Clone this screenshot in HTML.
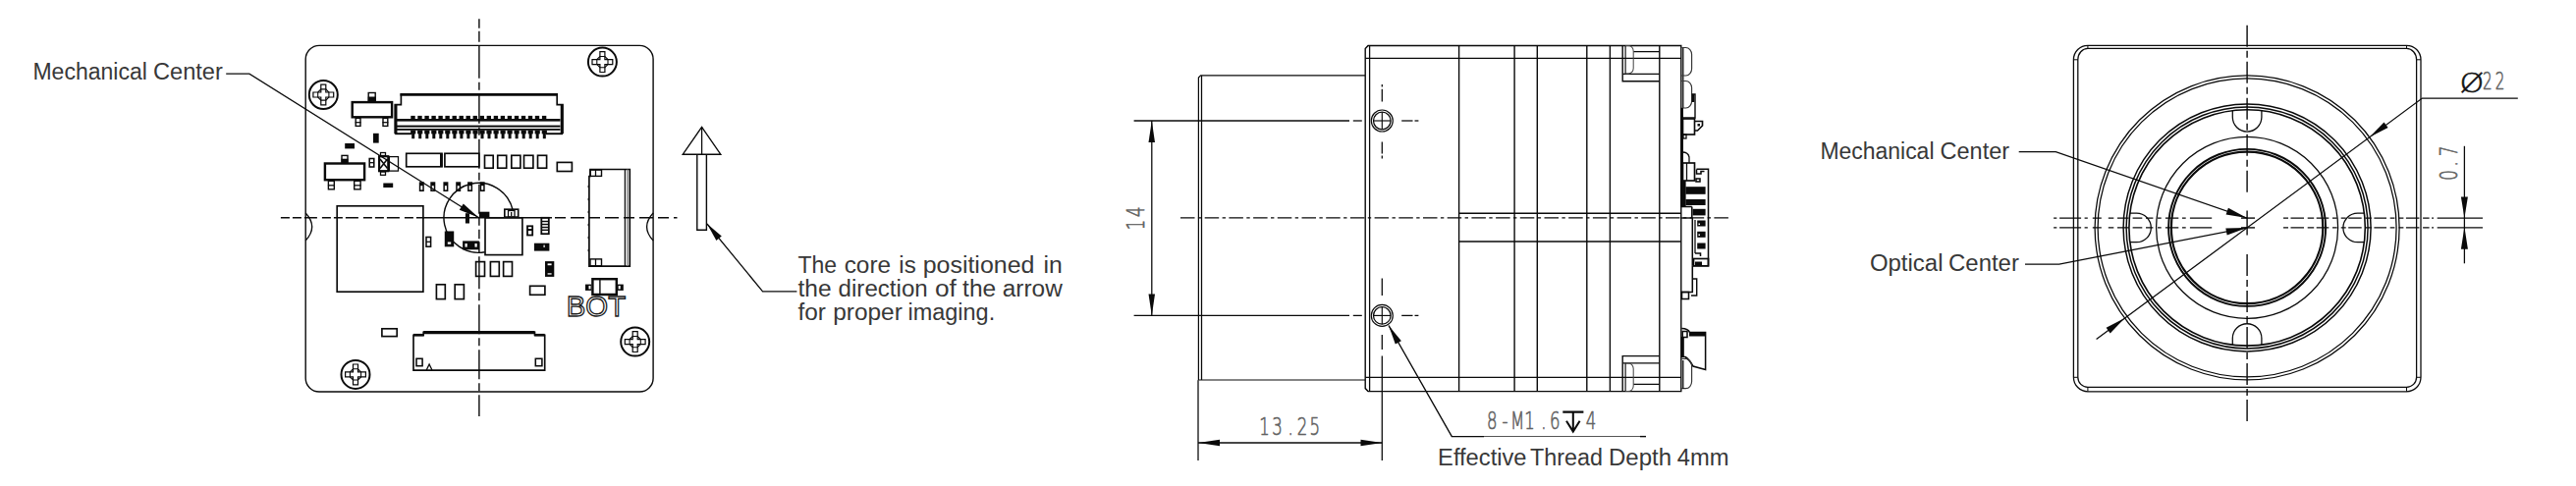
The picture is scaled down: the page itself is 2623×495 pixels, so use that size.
<!DOCTYPE html>
<html><head><meta charset="utf-8"><title>Dimensions</title>
<style>html,body{margin:0;padding:0;background:#fff}svg{display:block}</style>
</head><body>
<svg width="2623" height="495" viewBox="0 0 2623 495">
<rect width="2623" height="495" fill="#fff"/>
<g id="pcb">
<rect x="311.2" y="46.4" width="353.9" height="352.6" fill="none" stroke="#0a0a0a" stroke-width="1.41" rx="13.8"/>
<path d="M311.2 217 Q324.2 231 311.2 245" fill="none" stroke="#0a0a0a" stroke-width="1.28" />
<path d="M665.1 217 Q652.1 231 665.1 245" fill="none" stroke="#0a0a0a" stroke-width="1.28" />
<circle cx="329.3" cy="96.5" r="14.5" fill="none" stroke="#0a0a0a" stroke-width="1.98" />
<path d="M326.8,86.1 H331.8 V94.0 H339.7 V99.0 H331.8 V106.9 H326.8 V99.0 H318.90000000000003 V94.0 H326.8 Z" fill="none" stroke="#0a0a0a" stroke-width="1.22" />
<path d="M323.7,94.0 V99.0 L326.8,102.1 H331.8 L334.90000000000003,99.0 V94.0 L331.8,90.9 H326.8 Z" fill="none" stroke="#0a0a0a" stroke-width="1.09" />
<circle cx="613.4" cy="63.1" r="14.5" fill="none" stroke="#0a0a0a" stroke-width="1.98" />
<path d="M610.9,52.7 H615.9 V60.6 H623.8 V65.6 H615.9 V73.5 H610.9 V65.6 H603.0 V60.6 H610.9 Z" fill="none" stroke="#0a0a0a" stroke-width="1.22" />
<path d="M607.8,60.6 V65.6 L610.9,68.7 H615.9 L619.0,65.6 V60.6 L615.9,57.5 H610.9 Z" fill="none" stroke="#0a0a0a" stroke-width="1.09" />
<circle cx="362.0" cy="381.4" r="14.5" fill="none" stroke="#0a0a0a" stroke-width="1.98" />
<path d="M359.5,371.0 H364.5 V378.9 H372.4 V383.9 H364.5 V391.79999999999995 H359.5 V383.9 H351.6 V378.9 H359.5 Z" fill="none" stroke="#0a0a0a" stroke-width="1.22" />
<path d="M356.4,378.9 V383.9 L359.5,387.0 H364.5 L367.6,383.9 V378.9 L364.5,375.79999999999995 H359.5 Z" fill="none" stroke="#0a0a0a" stroke-width="1.09" />
<circle cx="646.7" cy="348.1" r="14.5" fill="none" stroke="#0a0a0a" stroke-width="1.98" />
<path d="M644.2,337.70000000000005 H649.2 V345.6 H657.1 V350.6 H649.2 V358.5 H644.2 V350.6 H636.3000000000001 V345.6 H644.2 Z" fill="none" stroke="#0a0a0a" stroke-width="1.22" />
<path d="M641.1,345.6 V350.6 L644.2,353.70000000000005 H649.2 L652.3000000000001,350.6 V345.6 L649.2,342.5 H644.2 Z" fill="none" stroke="#0a0a0a" stroke-width="1.09" />
<rect x="358.7" y="104.1" width="40.4" height="15.2" fill="none" stroke="#0a0a0a" stroke-width="2.43" />
<rect x="375.2" y="94.5" width="7.0" height="8.5" fill="none" stroke="#0a0a0a" stroke-width="1.41" />
<rect x="374.7" y="98.5" width="8.0" height="4.5" fill="#0a0a0a"/>
<rect x="362.2" y="120.4" width="4.8" height="8.0" fill="none" stroke="#0a0a0a" stroke-width="1.41" />
<line x1="361.7" y1="124.7" x2="367.5" y2="124.7" stroke="#0a0a0a" stroke-width="1.28" />
<rect x="390.0" y="120.4" width="4.8" height="8.0" fill="none" stroke="#0a0a0a" stroke-width="1.41" />
<line x1="389.5" y1="124.7" x2="395.3" y2="124.7" stroke="#0a0a0a" stroke-width="1.28" />
<rect x="330.9" y="166.5" width="40.2" height="16.7" fill="none" stroke="#0a0a0a" stroke-width="2.43" />
<rect x="348.0" y="158.4" width="6.0" height="7.0" fill="none" stroke="#0a0a0a" stroke-width="1.41" />
<rect x="347.5" y="161.7" width="7.0" height="3.8" fill="#0a0a0a"/>
<rect x="334.4" y="184.3" width="5.9" height="8.5" fill="none" stroke="#0a0a0a" stroke-width="1.41" />
<line x1="333.9" y1="188.8" x2="340.8" y2="188.8" stroke="#0a0a0a" stroke-width="1.28" />
<rect x="360.7" y="184.3" width="6.4" height="8.5" fill="none" stroke="#0a0a0a" stroke-width="1.41" />
<line x1="360.2" y1="188.8" x2="367.6" y2="188.8" stroke="#0a0a0a" stroke-width="1.28" />
<rect x="380.0" y="135.8" width="5.7" height="9.8" fill="#0a0a0a"/>
<rect x="351.2" y="146.0" width="9.8" height="5.4" fill="#0a0a0a"/>
<rect x="390.3" y="186.5" width="9.9" height="4.5" fill="#0a0a0a"/>
<rect x="376.2" y="161.5" width="4.6" height="8.5" fill="none" stroke="#0a0a0a" stroke-width="1.54" />
<line x1="376.2" y1="165.7" x2="380.8" y2="165.7" stroke="#0a0a0a" stroke-width="1.28" />
<rect x="386.1" y="159.2" width="9.2" height="15.0" fill="none" stroke="#0a0a0a" stroke-width="2.18" />
<rect x="387.5" y="155.5" width="5.0" height="3.0" fill="none" stroke="#0a0a0a" stroke-width="1.28" />
<rect x="387.5" y="175.0" width="5.0" height="3.3" fill="none" stroke="#0a0a0a" stroke-width="1.28" />
<path d="M387,162 L394.5,171.5 M394.5,162 L387,171.5" fill="none" stroke="#0a0a0a" stroke-width="1.54" />
<rect x="396.4" y="159.6" width="9.1" height="14.5" fill="none" stroke="#0a0a0a" stroke-width="1.28" />
<rect x="413.7" y="156.3" width="36.3" height="13.5" fill="none" stroke="#0a0a0a" stroke-width="1.66" />
<line x1="449.3" y1="156.3" x2="449.3" y2="169.8" stroke="#0a0a0a" stroke-width="2.56" />
<rect x="452.9" y="156.3" width="34.9" height="13.5" fill="none" stroke="#0a0a0a" stroke-width="1.66" />
<rect x="493.5" y="158.3" width="8.7" height="12.9" fill="none" stroke="#0a0a0a" stroke-width="1.66" />
<rect x="506.7" y="158.3" width="9.0" height="12.9" fill="none" stroke="#0a0a0a" stroke-width="1.66" />
<rect x="520.8" y="158.3" width="9.1" height="12.9" fill="none" stroke="#0a0a0a" stroke-width="1.66" />
<rect x="533.5" y="158.3" width="9.4" height="12.9" fill="none" stroke="#0a0a0a" stroke-width="1.66" />
<rect x="547.5" y="158.3" width="9.1" height="12.9" fill="none" stroke="#0a0a0a" stroke-width="1.66" />
<rect x="567.3" y="165.4" width="15.1" height="9.1" fill="none" stroke="#0a0a0a" stroke-width="1.66" />
<rect x="426.8" y="185.3" width="5.0" height="9.7" fill="#0a0a0a"/>
<rect x="428.3" y="189.2" width="2.0" height="4.2" fill="#fff"/>
<rect x="438.3" y="185.3" width="5.0" height="9.7" fill="#0a0a0a"/>
<rect x="439.8" y="189.2" width="2.0" height="4.2" fill="#fff"/>
<rect x="451.4" y="185.3" width="5.0" height="9.7" fill="#0a0a0a"/>
<rect x="452.9" y="189.2" width="2.0" height="4.2" fill="#fff"/>
<rect x="464.2" y="185.3" width="5.0" height="9.7" fill="#0a0a0a"/>
<rect x="465.7" y="189.2" width="2.0" height="4.2" fill="#fff"/>
<rect x="476.1" y="185.3" width="5.0" height="9.7" fill="#0a0a0a"/>
<rect x="477.6" y="189.2" width="2.0" height="4.2" fill="#fff"/>
<rect x="488.7" y="185.3" width="5.0" height="9.7" fill="#0a0a0a"/>
<rect x="490.2" y="189.2" width="2.0" height="4.2" fill="#fff"/>
<path d="M402.2,136.2 V106.7 H408.4 V96.1 H567.2 V106.7 H573 V136.2" fill="none" stroke="#0a0a0a" stroke-width="1.66" />
<line x1="407.5" y1="96.3" x2="568.0" y2="96.3" stroke="#0a0a0a" stroke-width="2.82" />
<line x1="403.2" y1="106.7" x2="403.2" y2="136.0" stroke="#0a0a0a" stroke-width="2.56" />
<line x1="572.0" y1="106.7" x2="572.0" y2="136.0" stroke="#0a0a0a" stroke-width="2.56" />
<rect x="404.0" y="121.0" width="166.5" height="2.6" fill="#0a0a0a"/>
<rect x="404.0" y="127.6" width="166.5" height="2.0" fill="#0a0a0a"/>
<rect x="404.0" y="131.0" width="166.5" height="1.8" fill="#0a0a0a"/>
<rect x="419.2" y="134.0" width="3.0" height="7.2" fill="#0a0a0a"/>
<rect x="418.1" y="132.6" width="5.2" height="3.8" fill="#0a0a0a"/>
<rect x="418.3" y="117.9" width="4.4" height="3.6" fill="#0a0a0a"/>
<rect x="426.2" y="134.0" width="3.0" height="7.2" fill="#0a0a0a"/>
<rect x="425.1" y="132.6" width="5.2" height="3.8" fill="#0a0a0a"/>
<rect x="425.3" y="117.9" width="4.4" height="3.6" fill="#0a0a0a"/>
<rect x="433.3" y="134.0" width="3.0" height="7.2" fill="#0a0a0a"/>
<rect x="432.2" y="132.6" width="5.2" height="3.8" fill="#0a0a0a"/>
<rect x="432.4" y="117.9" width="4.4" height="3.6" fill="#0a0a0a"/>
<rect x="440.3" y="134.0" width="3.0" height="7.2" fill="#0a0a0a"/>
<rect x="439.2" y="132.6" width="5.2" height="3.8" fill="#0a0a0a"/>
<rect x="439.4" y="117.9" width="4.4" height="3.6" fill="#0a0a0a"/>
<rect x="447.3" y="134.0" width="3.0" height="7.2" fill="#0a0a0a"/>
<rect x="446.2" y="132.6" width="5.2" height="3.8" fill="#0a0a0a"/>
<rect x="446.4" y="117.9" width="4.4" height="3.6" fill="#0a0a0a"/>
<rect x="454.3" y="134.0" width="3.0" height="7.2" fill="#0a0a0a"/>
<rect x="453.2" y="132.6" width="5.2" height="3.8" fill="#0a0a0a"/>
<rect x="453.4" y="117.9" width="4.4" height="3.6" fill="#0a0a0a"/>
<rect x="461.4" y="134.0" width="3.0" height="7.2" fill="#0a0a0a"/>
<rect x="460.3" y="132.6" width="5.2" height="3.8" fill="#0a0a0a"/>
<rect x="460.5" y="117.9" width="4.4" height="3.6" fill="#0a0a0a"/>
<rect x="468.4" y="134.0" width="3.0" height="7.2" fill="#0a0a0a"/>
<rect x="467.3" y="132.6" width="5.2" height="3.8" fill="#0a0a0a"/>
<rect x="467.5" y="117.9" width="4.4" height="3.6" fill="#0a0a0a"/>
<rect x="475.4" y="134.0" width="3.0" height="7.2" fill="#0a0a0a"/>
<rect x="474.3" y="132.6" width="5.2" height="3.8" fill="#0a0a0a"/>
<rect x="474.5" y="117.9" width="4.4" height="3.6" fill="#0a0a0a"/>
<rect x="482.5" y="134.0" width="3.0" height="7.2" fill="#0a0a0a"/>
<rect x="481.4" y="132.6" width="5.2" height="3.8" fill="#0a0a0a"/>
<rect x="481.6" y="117.9" width="4.4" height="3.6" fill="#0a0a0a"/>
<rect x="489.5" y="134.0" width="3.0" height="7.2" fill="#0a0a0a"/>
<rect x="488.4" y="132.6" width="5.2" height="3.8" fill="#0a0a0a"/>
<rect x="488.6" y="117.9" width="4.4" height="3.6" fill="#0a0a0a"/>
<rect x="496.5" y="134.0" width="3.0" height="7.2" fill="#0a0a0a"/>
<rect x="495.4" y="132.6" width="5.2" height="3.8" fill="#0a0a0a"/>
<rect x="495.6" y="117.9" width="4.4" height="3.6" fill="#0a0a0a"/>
<rect x="503.6" y="134.0" width="3.0" height="7.2" fill="#0a0a0a"/>
<rect x="502.5" y="132.6" width="5.2" height="3.8" fill="#0a0a0a"/>
<rect x="502.7" y="117.9" width="4.4" height="3.6" fill="#0a0a0a"/>
<rect x="510.6" y="134.0" width="3.0" height="7.2" fill="#0a0a0a"/>
<rect x="509.5" y="132.6" width="5.2" height="3.8" fill="#0a0a0a"/>
<rect x="509.7" y="117.9" width="4.4" height="3.6" fill="#0a0a0a"/>
<rect x="517.6" y="134.0" width="3.0" height="7.2" fill="#0a0a0a"/>
<rect x="516.5" y="132.6" width="5.2" height="3.8" fill="#0a0a0a"/>
<rect x="516.7" y="117.9" width="4.4" height="3.6" fill="#0a0a0a"/>
<rect x="524.6" y="134.0" width="3.0" height="7.2" fill="#0a0a0a"/>
<rect x="523.5" y="132.6" width="5.2" height="3.8" fill="#0a0a0a"/>
<rect x="523.8" y="117.9" width="4.4" height="3.6" fill="#0a0a0a"/>
<rect x="531.7" y="134.0" width="3.0" height="7.2" fill="#0a0a0a"/>
<rect x="530.6" y="132.6" width="5.2" height="3.8" fill="#0a0a0a"/>
<rect x="530.8" y="117.9" width="4.4" height="3.6" fill="#0a0a0a"/>
<rect x="538.7" y="134.0" width="3.0" height="7.2" fill="#0a0a0a"/>
<rect x="537.6" y="132.6" width="5.2" height="3.8" fill="#0a0a0a"/>
<rect x="537.8" y="117.9" width="4.4" height="3.6" fill="#0a0a0a"/>
<rect x="545.7" y="134.0" width="3.0" height="7.2" fill="#0a0a0a"/>
<rect x="544.6" y="132.6" width="5.2" height="3.8" fill="#0a0a0a"/>
<rect x="544.8" y="117.9" width="4.4" height="3.6" fill="#0a0a0a"/>
<rect x="552.8" y="134.0" width="3.0" height="7.2" fill="#0a0a0a"/>
<rect x="551.7" y="132.6" width="5.2" height="3.8" fill="#0a0a0a"/>
<rect x="551.9" y="117.9" width="4.4" height="3.6" fill="#0a0a0a"/>
<line x1="402.2" y1="136.2" x2="419.0" y2="136.2" stroke="#0a0a0a" stroke-width="1.92" />
<line x1="556.0" y1="136.2" x2="573.0" y2="136.2" stroke="#0a0a0a" stroke-width="1.92" />
<rect x="343.2" y="209.8" width="87.7" height="87.4" fill="none" stroke="#0a0a0a" stroke-width="1.66" />
<rect x="494.0" y="221.8" width="37.9" height="37.8" fill="none" stroke="#0a0a0a" stroke-width="1.66" />
<path d="M521.9,213.2 A35.5,35.5 0 1 0 493.7,256.8" fill="none" stroke="#0a0a0a" stroke-width="1.41" />
<rect x="487.9" y="215.7" width="10.5" height="6.1" fill="#0a0a0a"/>
<rect x="473.9" y="217.2" width="4.1" height="10.3" fill="#0a0a0a"/>
<rect x="513.8" y="213.2" width="13.9" height="7.9" fill="none" stroke="#0a0a0a" stroke-width="1.66" />
<rect x="517.5" y="214.5" width="6.5" height="6.6" fill="none" stroke="#0a0a0a" stroke-width="1.28" />
<line x1="520.7" y1="216.0" x2="520.7" y2="220.0" stroke="#0a0a0a" stroke-width="1.28" />
<rect x="434.0" y="241.5" width="4.6" height="9.7" fill="none" stroke="#0a0a0a" stroke-width="1.54" />
<line x1="434.0" y1="246.3" x2="438.6" y2="246.3" stroke="#0a0a0a" stroke-width="1.28" />
<rect x="453.8" y="236.5" width="7.4" height="13.8" fill="#0a0a0a" stroke="#0a0a0a" stroke-width="2.05" />
<rect x="455.8" y="246.5" width="3.4" height="2.2" fill="#fff"/>
<rect x="472.0" y="246.3" width="15.0" height="7.1" fill="#0a0a0a" stroke="#0a0a0a" stroke-width="1.79" />
<rect x="473.5" y="248" width="2.2" height="3.6" fill="#fff"/><rect x="483.5" y="248" width="2.2" height="3.6" fill="#fff"/>
<rect x="537.0" y="230.3" width="5.2" height="9.2" fill="none" stroke="#0a0a0a" stroke-width="1.79" />
<rect x="537.0" y="233.0" width="5.2" height="2.0" fill="#0a0a0a"/>
<rect x="551.3" y="221.8" width="7.5" height="16.4" fill="none" stroke="#0a0a0a" stroke-width="1.79" />
<line x1="551.3" y1="225.5" x2="558.8" y2="225.5" stroke="#0a0a0a" stroke-width="1.41" />
<line x1="551.3" y1="228.5" x2="558.8" y2="228.5" stroke="#0a0a0a" stroke-width="1.41" />
<line x1="551.3" y1="231.5" x2="558.8" y2="231.5" stroke="#0a0a0a" stroke-width="1.41" />
<line x1="551.3" y1="234.3" x2="558.8" y2="234.3" stroke="#0a0a0a" stroke-width="1.41" />
<rect x="543.9" y="247.7" width="15.5" height="7.9" fill="#0a0a0a"/>
<rect x="553.5" y="249.5" width="1.2" height="2.5" fill="#fff"/>
<rect x="555.9" y="267.0" width="7.5" height="14.0" fill="#0a0a0a" stroke="#0a0a0a" stroke-width="1.79" />
<rect x="557.6" y="268.4" width="4" height="1.8" fill="#fff"/><rect x="557.6" y="278" width="4" height="1.8" fill="#bbb"/>
<rect x="484.6" y="266.6" width="8.9" height="14.8" fill="none" stroke="#0a0a0a" stroke-width="1.66" />
<rect x="499.4" y="266.6" width="8.9" height="14.8" fill="none" stroke="#0a0a0a" stroke-width="1.66" />
<rect x="512.6" y="266.6" width="8.9" height="14.8" fill="none" stroke="#0a0a0a" stroke-width="1.66" />
<rect x="444.4" y="289.8" width="8.9" height="14.8" fill="none" stroke="#0a0a0a" stroke-width="1.66" />
<rect x="463.2" y="289.8" width="9.2" height="14.8" fill="none" stroke="#0a0a0a" stroke-width="1.66" />
<rect x="539.6" y="291.3" width="15.3" height="9.0" fill="none" stroke="#0a0a0a" stroke-width="1.66" />
<rect x="388.9" y="334.8" width="15.3" height="7.8" fill="none" stroke="#0a0a0a" stroke-width="1.66" />
<path d="M599.9,271.1 V179.5 H601 V172.5 H641.3 V271.1 Z" fill="none" stroke="#0a0a0a" stroke-width="1.66" />
<line x1="636.4" y1="172.5" x2="636.4" y2="271.1" stroke="#0a0a0a" stroke-width="1.28" />
<line x1="638.9" y1="172.5" x2="638.9" y2="271.1" stroke="#777" stroke-width="1.28" />
<rect x="601.0" y="173.1" width="11.5" height="6.3" fill="none" stroke="#0a0a0a" stroke-width="1.41" />
<line x1="606.5" y1="173.1" x2="606.5" y2="179.4" stroke="#0a0a0a" stroke-width="1.28" />
<rect x="601.0" y="263.9" width="11.5" height="6.9" fill="none" stroke="#0a0a0a" stroke-width="1.41" />
<line x1="606.5" y1="263.9" x2="606.5" y2="270.8" stroke="#0a0a0a" stroke-width="1.28" />
<rect x="598.6" y="188.8" width="1.4" height="2.4" fill="#0a0a0a"/>
<rect x="598.6" y="201.8" width="1.4" height="2.4" fill="#0a0a0a"/>
<rect x="598.6" y="214.8" width="1.4" height="2.4" fill="#0a0a0a"/>
<rect x="598.6" y="227.8" width="1.4" height="2.4" fill="#0a0a0a"/>
<rect x="598.6" y="240.8" width="1.4" height="2.4" fill="#0a0a0a"/>
<rect x="598.6" y="253.8" width="1.4" height="2.4" fill="#0a0a0a"/>
<rect x="603.4" y="284.2" width="24.4" height="15.8" fill="none" stroke="#0a0a0a" stroke-width="2.43" />
<line x1="610.9" y1="283.3" x2="610.9" y2="301.0" stroke="#0a0a0a" stroke-width="1.41" />
<rect x="596.0" y="289.6" width="6.2" height="6.3" fill="#0a0a0a"/>
<rect x="629.0" y="289.6" width="5.8" height="6.3" fill="#0a0a0a"/>
<rect x="599.5" y="291" width="2" height="3.4" fill="#fff"/><rect x="629.7" y="291" width="2" height="3.4" fill="#fff"/>
<text x="576.8" y="321.9" font-size="30" font-family="'Liberation Sans', sans-serif" fill="#fff" stroke="#1c1c1c" stroke-width="1.35" textLength="60.3" lengthAdjust="spacingAndGlyphs">BOT</text>
<path d="M421,377.1 V341.4 H431.2 V338.4 H544.5 V341.4 H554.7 V377.1 Z" fill="none" stroke="#0a0a0a" stroke-width="1.66" />
<line x1="431.2" y1="338.6" x2="544.5" y2="338.6" stroke="#0a0a0a" stroke-width="3.07" />
<line x1="421.0" y1="341.2" x2="431.6" y2="341.2" stroke="#0a0a0a" stroke-width="2.56" />
<line x1="544.2" y1="341.2" x2="554.7" y2="341.2" stroke="#0a0a0a" stroke-width="2.56" />
<rect x="424.0" y="365.3" width="6.1" height="7.4" fill="none" stroke="#0a0a0a" stroke-width="1.54" />
<rect x="545.3" y="365.3" width="6.6" height="7.4" fill="none" stroke="#0a0a0a" stroke-width="1.54" />
<path d="M434.2,377.1 L437.1,371 L440,377.1" fill="none" stroke="#0a0a0a" stroke-width="1.28" />
<line x1="487.9" y1="19.3" x2="487.9" y2="424.0" stroke="#0a0a0a" stroke-width="1.41" stroke-dasharray="9.5 3 11 4 33 4 8 4 30 4 8 4 30 4 8 4 30 4 8 4"/>
<line x1="285.9" y1="221.7" x2="432.0" y2="221.7" stroke="#0a0a0a" stroke-width="1.41" stroke-dasharray="9 3 9 3 13 5"/>
<line x1="430.0" y1="221.7" x2="562.0" y2="221.7" stroke="#0a0a0a" stroke-width="1.41" />
<line x1="565.0" y1="221.7" x2="689.5" y2="221.7" stroke="#0a0a0a" stroke-width="1.41" stroke-dasharray="11 5 14 5"/>
<path d="M230.2,75.2 H253.9 L487.2,221.5" fill="none" stroke="#0a0a0a" stroke-width="1.28" />
<polygon points="487.2,221.5 467.8,213.8 471.8,207.4" fill="#0a0a0a"/>
<text y="80.7" font-size="23.3" fill="#383838" font-family="'Liberation Sans', sans-serif" xml:space="preserve"><tspan x="33.4" textLength="116.5" lengthAdjust="spacingAndGlyphs">Mechanical</tspan> <tspan x="156.0" textLength="70.8" lengthAdjust="spacingAndGlyphs">Center</tspan></text>
<path d="M714.6,129.4 L695.3,157.2 H733.8 Z" fill="none" stroke="#0a0a0a" stroke-width="1.41" />
<line x1="714.6" y1="129.4" x2="714.6" y2="157.2" stroke="#0a0a0a" stroke-width="1.28" />
<path d="M709.8,157.2 V234.3 H719.4 V157.2" fill="none" stroke="#0a0a0a" stroke-width="1.41" />
<path d="M720,228 L776.6,296.9 H811.4" fill="none" stroke="#0a0a0a" stroke-width="1.28" />
<polygon points="720.0,228.0 734.8,240.5 729.4,244.9" fill="#0a0a0a"/>
<text y="277.8" font-size="23.3" fill="#383838" font-family="'Liberation Sans', sans-serif" xml:space="preserve"><tspan x="812.5" textLength="39.6" lengthAdjust="spacingAndGlyphs">The</tspan> <tspan x="859.7" textLength="47.4" lengthAdjust="spacingAndGlyphs">core</tspan> <tspan x="915.3" textLength="17.4" lengthAdjust="spacingAndGlyphs">is</tspan> <tspan x="939.7" textLength="113.7" lengthAdjust="spacingAndGlyphs">positioned</tspan> <tspan x="1062.5" textLength="19.3" lengthAdjust="spacingAndGlyphs">in</tspan></text>
<text y="301.5" font-size="23.3" fill="#383838" font-family="'Liberation Sans', sans-serif" xml:space="preserve"><tspan x="812.5" textLength="34.1" lengthAdjust="spacingAndGlyphs">the</tspan> <tspan x="853.6" textLength="91.1" lengthAdjust="spacingAndGlyphs">direction</tspan> <tspan x="951.9" textLength="21.9" lengthAdjust="spacingAndGlyphs">of</tspan> <tspan x="980.1" textLength="34.1" lengthAdjust="spacingAndGlyphs">the</tspan> <tspan x="1020.8" textLength="61.0" lengthAdjust="spacingAndGlyphs">arrow</tspan></text>
<text y="325.6" font-size="23.3" fill="#383838" font-family="'Liberation Sans', sans-serif" xml:space="preserve"><tspan x="812.5" textLength="28.5" lengthAdjust="spacingAndGlyphs">for</tspan> <tspan x="848.2" textLength="70.6" lengthAdjust="spacingAndGlyphs">proper</tspan> <tspan x="924.5" textLength="88.7" lengthAdjust="spacingAndGlyphs">imaging.</tspan></text>
</g>
<g id="side">
<path d="M1390,76.9 H1222.6 L1220.4,79 V387 H1390" fill="none" stroke="#0a0a0a" stroke-width="1.22" />
<line x1="1223.5" y1="77.0" x2="1223.5" y2="387.0" stroke="#0a0a0a" stroke-width="1.28" />
<path d="M1390.2,49.5 L1393.0,46.5 H1711.8 V398.6 H1393.0 L1390.2,395.6 Z" fill="none" stroke="#0a0a0a" stroke-width="1.41" />
<line x1="1394.6" y1="46.5" x2="1394.6" y2="398.6" stroke="#0a0a0a" stroke-width="1.28" />
<line x1="1390.2" y1="59.4" x2="1711.8" y2="59.4" stroke="#0a0a0a" stroke-width="1.28" />
<line x1="1390.2" y1="384.4" x2="1711.8" y2="384.4" stroke="#0a0a0a" stroke-width="1.28" />
<line x1="1485.6" y1="46.5" x2="1485.6" y2="398.6" stroke="#0a0a0a" stroke-width="1.41" />
<line x1="1542.1" y1="46.5" x2="1542.1" y2="398.6" stroke="#0a0a0a" stroke-width="1.41" />
<line x1="1565.3" y1="46.5" x2="1565.3" y2="398.6" stroke="#0a0a0a" stroke-width="1.41" />
<line x1="1615.8" y1="46.5" x2="1615.8" y2="398.6" stroke="#0a0a0a" stroke-width="1.41" />
<line x1="1639.4" y1="46.5" x2="1639.4" y2="398.6" stroke="#0a0a0a" stroke-width="1.41" />
<line x1="1689.8" y1="46.5" x2="1689.8" y2="398.6" stroke="#0a0a0a" stroke-width="1.41" />
<line x1="1485.6" y1="217.3" x2="1711.8" y2="217.3" stroke="#0a0a0a" stroke-width="1.41" />
<line x1="1485.6" y1="246.0" x2="1711.8" y2="246.0" stroke="#0a0a0a" stroke-width="1.41" />
<path d="M1652.2,46.5 V82.8 H1689.8" fill="none" stroke="#0a0a0a" stroke-width="1.41" />
<line x1="1652.2" y1="75.3" x2="1689.8" y2="75.3" stroke="#0a0a0a" stroke-width="1.28" />
<line x1="1655.1" y1="46.5" x2="1655.1" y2="75.3" stroke="#0a0a0a" stroke-width="1.15" />
<line x1="1663.3" y1="52.6" x2="1689.8" y2="52.6" stroke="#0a0a0a" stroke-width="1.28" />
<path d="M1655.1,46.5 H1658.2 A5,5.5 0 0 1 1663.2,52 V69.5 A5,5.6 0 0 1 1658.2,75.1 H1655.1" fill="none" stroke="#444" stroke-width="1.02" />
<path d="M1652.2,398.6 V362.6 H1689.8" fill="none" stroke="#0a0a0a" stroke-width="1.41" />
<line x1="1652.2" y1="369.8" x2="1689.8" y2="369.8" stroke="#0a0a0a" stroke-width="1.28" />
<line x1="1655.1" y1="398.6" x2="1655.1" y2="369.8" stroke="#0a0a0a" stroke-width="1.15" />
<line x1="1663.3" y1="391.4" x2="1689.8" y2="391.4" stroke="#0a0a0a" stroke-width="1.28" />
<path d="M1655.1,398.6 H1658.2 A5,5.5 0 0 0 1663.2,393.1 V375.6 A5,5.6 0 0 0 1658.2,370 H1655.1" fill="none" stroke="#444" stroke-width="1.02" />
<line x1="1713.8" y1="48.0" x2="1713.8" y2="110.0" stroke="#0a0a0a" stroke-width="1.28" />
<path d="M1712.3,48.5 H1716.6 A6,7 0 0 1 1722.6,55.5 V70 A6,7 0 0 1 1716.6,77 H1712.3" fill="none" stroke="#333" stroke-width="1.15" />
<path d="M1712.3,82.5 H1716.6 A6,7 0 0 1 1722.6,89.5 V103 A6,7 0 0 1 1716.6,110 H1712.3" fill="none" stroke="#333" stroke-width="1.15" />
<path d="M1722.6,96 H1726 V120 H1712" fill="none" stroke="#0a0a0a" stroke-width="1.41" />
<line x1="1724.0" y1="96.0" x2="1724.0" y2="104.0" stroke="#0a0a0a" stroke-width="2.56" />
<rect x="1713.5" y="121.0" width="12.0" height="16.0" fill="none" stroke="#0a0a0a" stroke-width="1.66" />
<path d="M1725.5,123.5 H1733.5 V128 L1728.5,133 H1725.5" fill="none" stroke="#0a0a0a" stroke-width="1.66" />
<rect x="1728.5" y="126.0" width="2.5" height="2.5" fill="#0a0a0a"/>
<line x1="1712.6" y1="110.0" x2="1712.6" y2="200.0" stroke="#0a0a0a" stroke-width="2.82" />
<rect x="1714.0" y="137.0" width="3.0" height="4.0" fill="none" stroke="#0a0a0a" stroke-width="1.28" />
<path d="M1713,155 Q1719,155 1720,160 V166" fill="none" stroke="#0a0a0a" stroke-width="1.28" />
<rect x="1713.5" y="166.0" width="12.0" height="18.0" fill="none" stroke="#0a0a0a" stroke-width="1.66" />
<line x1="1717.5" y1="166.0" x2="1717.5" y2="184.0" stroke="#0a0a0a" stroke-width="1.28" />
<path d="M1727.5,172.2 H1739.5 V270.8 H1724" fill="none" stroke="#0a0a0a" stroke-width="1.54" />
<path d="M1727.5,172.5 V177 H1732 V174.5 H1735.5" fill="none" stroke="#0a0a0a" stroke-width="1.54" />
<rect x="1727.0" y="182.0" width="4.0" height="3.0" fill="none" stroke="#0a0a0a" stroke-width="1.54" />
<rect x="1711.2" y="184.0" width="5.4" height="27.0" fill="#0a0a0a"/>
<rect x="1716.4" y="190.2" width="20.2" height="7.6" fill="#0a0a0a"/>
<rect x="1716.4" y="203.0" width="20.2" height="6.0" fill="#0a0a0a"/>
<rect x="1723.6" y="212.8" width="13.0" height="6.6" fill="#0a0a0a"/>
<line x1="1711.8" y1="210.5" x2="1722.8" y2="210.5" stroke="#0a0a0a" stroke-width="1.54" />
<line x1="1722.8" y1="210.5" x2="1722.8" y2="222.0" stroke="#0a0a0a" stroke-width="1.54" />
<line x1="1723.3" y1="222.0" x2="1723.3" y2="262.0" stroke="#0a0a0a" stroke-width="1.54" />
<line x1="1726.0" y1="224.0" x2="1726.0" y2="258.0" stroke="#0a0a0a" stroke-width="1.28" />
<rect x="1728.2" y="224.5" width="8.4" height="6.0" fill="#0a0a0a"/>
<rect x="1728.2" y="235.8" width="8.4" height="6.0" fill="#0a0a0a"/>
<rect x="1728.2" y="247.5" width="8.4" height="6.0" fill="#0a0a0a"/>
<rect x="1729.5" y="227.5" width="1.5" height="1.5" fill="#fff"/><rect x="1729.5" y="238.5" width="1.5" height="1.5" fill="#fff"/>
<path d="M1726,258 H1731.5 V261" fill="none" stroke="#0a0a0a" stroke-width="1.54" />
<rect x="1724.5" y="263.5" width="15.0" height="7.3" fill="none" stroke="#0a0a0a" stroke-width="1.66" />
<rect x="1726.0" y="266.5" width="7.0" height="3.5" fill="#0a0a0a"/>
<line x1="1723.3" y1="262.0" x2="1723.3" y2="270.8" stroke="#0a0a0a" stroke-width="1.54" />
<path d="M1711.8,222 H1723.3" fill="none" stroke="#0a0a0a" stroke-width="1.41" />
<path d="M1723.3,270.8 V297.5 H1711.8" fill="none" stroke="#0a0a0a" stroke-width="1.54" />
<path d="M1723.3,284 H1727.7 V301 H1722" fill="none" stroke="#0a0a0a" stroke-width="1.41" />
<rect x="1712.5" y="297.5" width="7.0" height="7.0" fill="none" stroke="#0a0a0a" stroke-width="1.54" />
<path d="M1712.3,334.5 Q1719,334.5 1720.5,338.5 H1736.6 V376.6 L1724,373 Q1720,366 1716,363.5 H1712.3" fill="none" stroke="#0a0a0a" stroke-width="1.54" />
<rect x="1720.0" y="338.0" width="16.6" height="4.5" fill="#0a0a0a"/>
<rect x="1713.2" y="337.5" width="4.8" height="6.0" fill="none" stroke="#0a0a0a" stroke-width="1.54" />
<line x1="1713.3" y1="343.0" x2="1713.3" y2="364.0" stroke="#0a0a0a" stroke-width="3.07" />
<path d="M1712.3,365.5 H1716.6 A6,7 0 0 1 1722.6,372.5 V388.6 A6,7 0 0 1 1716.6,395.6 H1712.3" fill="none" stroke="#333" stroke-width="1.15" />
<line x1="1713.8" y1="367.0" x2="1713.8" y2="396.0" stroke="#0a0a0a" stroke-width="1.28" />
<circle cx="1407.3" cy="123.0" r="11.0" fill="none" stroke="#0a0a0a" stroke-width="1.15" />
<circle cx="1407.3" cy="123.0" r="8.8" fill="none" stroke="#0a0a0a" stroke-width="1.28" />
<line x1="1398.5" y1="123.0" x2="1416.1" y2="123.0" stroke="#0a0a0a" stroke-width="1.15" />
<line x1="1407.3" y1="114.2" x2="1407.3" y2="131.8" stroke="#0a0a0a" stroke-width="1.15" />
<line x1="1377.8" y1="123.0" x2="1386.8" y2="123.0" stroke="#0a0a0a" stroke-width="1.28" />
<line x1="1427.2" y1="123.0" x2="1438.5" y2="123.0" stroke="#0a0a0a" stroke-width="1.28" />
<line x1="1440.5" y1="123.0" x2="1444.4" y2="123.0" stroke="#0a0a0a" stroke-width="1.28" />
<circle cx="1407.3" cy="321.4" r="11.0" fill="none" stroke="#0a0a0a" stroke-width="1.15" />
<circle cx="1407.3" cy="321.4" r="8.8" fill="none" stroke="#0a0a0a" stroke-width="1.28" />
<line x1="1398.5" y1="321.4" x2="1416.1" y2="321.4" stroke="#0a0a0a" stroke-width="1.15" />
<line x1="1407.3" y1="312.6" x2="1407.3" y2="330.2" stroke="#0a0a0a" stroke-width="1.15" />
<line x1="1377.8" y1="321.4" x2="1386.8" y2="321.4" stroke="#0a0a0a" stroke-width="1.28" />
<line x1="1427.2" y1="321.4" x2="1438.5" y2="321.4" stroke="#0a0a0a" stroke-width="1.28" />
<line x1="1440.5" y1="321.4" x2="1444.4" y2="321.4" stroke="#0a0a0a" stroke-width="1.28" />
<line x1="1407.3" y1="86.0" x2="1407.3" y2="88.6" stroke="#0a0a0a" stroke-width="1.28" />
<line x1="1407.3" y1="90.8" x2="1407.3" y2="103.5" stroke="#0a0a0a" stroke-width="1.28" />
<line x1="1407.3" y1="144.5" x2="1407.3" y2="156.5" stroke="#0a0a0a" stroke-width="1.28" />
<line x1="1407.3" y1="158.6" x2="1407.3" y2="161.6" stroke="#0a0a0a" stroke-width="1.28" />
<line x1="1407.3" y1="283.4" x2="1407.3" y2="301.0" stroke="#0a0a0a" stroke-width="1.28" />
<line x1="1407.3" y1="341.0" x2="1407.3" y2="356.0" stroke="#0a0a0a" stroke-width="1.28" />
<line x1="1202.0" y1="221.9" x2="1760.0" y2="221.9" stroke="#0a0a0a" stroke-width="1.41" stroke-dasharray="14.5 3.4 3.4 3.4"/>
<line x1="1154.6" y1="123.0" x2="1374.0" y2="123.0" stroke="#0a0a0a" stroke-width="1.28" />
<line x1="1154.6" y1="321.4" x2="1374.0" y2="321.4" stroke="#0a0a0a" stroke-width="1.28" />
<line x1="1172.8" y1="123.0" x2="1172.8" y2="321.4" stroke="#0a0a0a" stroke-width="1.28" />
<polygon points="1172.8,123.0 1176.0,145.0 1169.5,145.0" fill="#0a0a0a"/>
<polygon points="1172.8,321.4 1169.5,299.4 1176.0,299.4" fill="#0a0a0a"/>
<text transform="translate(1164.7,222.3) rotate(-90) scale(0.65,1)" x="-10.2 10.0" y="0.0" text-anchor="middle" font-size="25.5" font-weight="200" font-family="'DejaVu Sans Light','DejaVu Sans','Liberation Sans',sans-serif" fill="#626262" stroke="#626262" stroke-width="0.7">14</text>
<line x1="1220.0" y1="387.2" x2="1220.0" y2="469.0" stroke="#0a0a0a" stroke-width="1.28" />
<line x1="1407.3" y1="362.5" x2="1407.3" y2="469.0" stroke="#0a0a0a" stroke-width="1.28" />
<line x1="1220.0" y1="451.0" x2="1407.5" y2="451.0" stroke="#0a0a0a" stroke-width="1.28" />
<polygon points="1220.0,451.0 1242.0,447.8 1242.0,454.2" fill="#0a0a0a"/>
<polygon points="1407.5,451.0 1385.5,454.2 1385.5,447.8" fill="#0a0a0a"/>
<text transform="scale(0.65,1)" x="1980.9 2000.9 2021.8 2040.0 2059.7" y="442.9" text-anchor="middle" font-size="25.5" font-weight="200" font-family="'DejaVu Sans Light','DejaVu Sans','Liberation Sans',sans-serif" fill="#626262" stroke="#626262" stroke-width="0.7">13.25</text>
<path d="M1414,331.5 L1478.3,444.6 H1511" fill="none" stroke="#0a0a0a" stroke-width="1.41" />
<line x1="1511.0" y1="444.6" x2="1670.0" y2="444.6" stroke="#555" stroke-width="1.02" />
<line x1="1670.0" y1="444.6" x2="1676.0" y2="444.6" stroke="#0a0a0a" stroke-width="1.41" />
<polygon points="1414.0,331.5 1426.9,347.2 1420.8,350.6" fill="#0a0a0a"/>
<text transform="scale(0.65,1)" x="2337.4 2357.5 2377.2 2396.3 2418.2 2435.8" y="437.4" text-anchor="middle" font-size="25.5" font-weight="200" font-family="'DejaVu Sans Light','DejaVu Sans','Liberation Sans',sans-serif" fill="#626262" stroke="#626262" stroke-width="0.7">8-M1.6</text>
<text transform="scale(0.65,1)" x="2492.5" y="437.4" text-anchor="middle" font-size="25.5" font-weight="200" font-family="'DejaVu Sans Light','DejaVu Sans','Liberation Sans',sans-serif" fill="#626262" stroke="#626262" stroke-width="0.7">4</text>
<path d="M1591.3,419.6 H1612.4 M1601.8,419.6 V439 M1595,428.7 L1601.8,439.5 L1608.6,428.7" fill="none" stroke="#0a0a0a" stroke-width="2.05" />
<text y="474.1" font-size="23.3" fill="#383838" font-family="'Liberation Sans', sans-serif" xml:space="preserve"><tspan x="1464.1" textLength="90.4" lengthAdjust="spacingAndGlyphs">Effective</tspan> <tspan x="1558.1" textLength="74.0" lengthAdjust="spacingAndGlyphs">Thread</tspan> <tspan x="1638.0" textLength="64.0" lengthAdjust="spacingAndGlyphs">Depth</tspan> <tspan x="1707.8" textLength="52.7" lengthAdjust="spacingAndGlyphs">4mm</tspan></text>
</g>
<g id="front">
<path d="M2111.4,60.8 A14.5,14.5 0 0 1 2125.9,46.3 H2450.5 A14.5,14.5 0 0 1 2465.0,60.8 V384.3 A14.5,14.5 0 0 1 2450.5,398.8 H2125.9 A14.5,14.5 0 0 1 2111.4,384.3 Z" fill="none" stroke="#0a0a0a" stroke-width="1.28" />
<path d="M2115.8,60.8 A10.1,11.4 0 0 1 2125.9,49.4 H2450.5 A10.1,11.4 0 0 1 2460.6,60.8 V384.3 A10.1,10.0 0 0 1 2450.5,394.3 H2125.9 A10.1,10.0 0 0 1 2115.8,384.3 Z" fill="none" stroke="#0a0a0a" stroke-width="1.28" />
<line x1="2111.4" y1="60.8" x2="2115.8" y2="60.8" stroke="#0a0a0a" stroke-width="1.02" />
<line x1="2125.9" y1="46.3" x2="2125.9" y2="49.4" stroke="#0a0a0a" stroke-width="1.02" />
<line x1="2450.5" y1="46.3" x2="2450.5" y2="49.4" stroke="#0a0a0a" stroke-width="1.02" />
<line x1="2460.6" y1="60.8" x2="2465.0" y2="60.8" stroke="#0a0a0a" stroke-width="1.02" />
<line x1="2111.4" y1="384.3" x2="2115.8" y2="384.3" stroke="#0a0a0a" stroke-width="1.02" />
<line x1="2125.9" y1="398.8" x2="2125.9" y2="394.3" stroke="#0a0a0a" stroke-width="1.02" />
<line x1="2450.5" y1="398.8" x2="2450.5" y2="394.3" stroke="#0a0a0a" stroke-width="1.02" />
<line x1="2460.6" y1="384.3" x2="2465.0" y2="384.3" stroke="#0a0a0a" stroke-width="1.02" />
<circle cx="2288.1" cy="231.9" r="155.0" fill="none" stroke="#0a0a0a" stroke-width="1.28" />
<circle cx="2288.1" cy="231.9" r="152.0" fill="none" stroke="#0a0a0a" stroke-width="1.28" />
<circle cx="2288.1" cy="231.9" r="126.0" fill="none" stroke="#0a0a0a" stroke-width="1.47" />
<circle cx="2288.1" cy="231.9" r="123.0" fill="none" stroke="#0a0a0a" stroke-width="1.47" />
<circle cx="2288.1" cy="231.9" r="120.2" fill="none" stroke="#0a0a0a" stroke-width="1.60" />
<circle cx="2288.1" cy="231.9" r="92.5" fill="none" stroke="#0a0a0a" stroke-width="1.28" />
<circle cx="2288.1" cy="231.9" r="80.0" fill="none" stroke="#0a0a0a" stroke-width="1.92" />
<circle cx="2288.1" cy="231.9" r="77.2" fill="none" stroke="#0a0a0a" stroke-width="2.18" />
<clipPath id="c120"><circle cx="2288.1" cy="231.9" r="120.2"/></clipPath>
<g clip-path="url(#c120)">
<path d="M2273.2999999999997,106.9 V119.30000000000001 A14.8,14.8 0 0 0 2302.9,119.30000000000001 V106.9" fill="none" stroke="#0a0a0a" stroke-width="1.28" />
<path d="M2273.2999999999997,356.9 V344.5 A14.8,14.8 0 0 1 2302.9,344.5 V356.9" fill="none" stroke="#0a0a0a" stroke-width="1.28" />
<path d="M2163.1,217.1 H2175.5 A14.8,14.8 0 0 1 2175.5,246.70000000000002 H2163.1" fill="none" stroke="#0a0a0a" stroke-width="1.28" />
<path d="M2413.1,217.1 H2400.7 A14.8,14.8 0 0 0 2400.7,246.70000000000002 H2413.1" fill="none" stroke="#0a0a0a" stroke-width="1.28" />
</g>
<line x1="2288.1" y1="25.8" x2="2288.1" y2="196.0" stroke="#0a0a0a" stroke-width="1.41" stroke-dasharray="22 4 7 4"/>
<line x1="2288.1" y1="259.0" x2="2288.1" y2="429.5" stroke="#0a0a0a" stroke-width="1.41" stroke-dasharray="22 4 7 4"/>
<line x1="2288.1" y1="214.4" x2="2288.1" y2="239.6" stroke="#0a0a0a" stroke-width="1.41" />
<line x1="2091.1" y1="222.1" x2="2252.2" y2="222.1" stroke="#0a0a0a" stroke-width="1.41" stroke-dasharray="3.2 2.8 22 3.5 3.2 5 9 7 5.5 3.7 11.6 4 9.7 3.7 7.4 4.6 3.7 4.2 13.4 3.7 3.7 4.2 22.7 0"/>
<line x1="2325.0" y1="222.1" x2="2478.0" y2="222.1" stroke="#0a0a0a" stroke-width="1.41" stroke-dasharray="5 2.5 13.5 3.7 6.5 2.5 12.6 3.7 4.7 4"/>
<line x1="2481.7" y1="222.1" x2="2528.0" y2="222.1" stroke="#0a0a0a" stroke-width="1.28" />
<line x1="2282.0" y1="222.1" x2="2296.0" y2="222.1" stroke="#0a0a0a" stroke-width="1.41" />
<line x1="2091.1" y1="231.9" x2="2252.2" y2="231.9" stroke="#0a0a0a" stroke-width="1.41" stroke-dasharray="3.2 2.8 22 3.5 3.2 5 9 7 5.5 3.7 11.6 4 9.7 3.7 7.4 4.6 3.7 4.2 13.4 3.7 3.7 4.2 22.7 0"/>
<line x1="2325.0" y1="231.9" x2="2478.0" y2="231.9" stroke="#0a0a0a" stroke-width="1.41" stroke-dasharray="5 2.5 13.5 3.7 6.5 2.5 12.6 3.7 4.7 4"/>
<line x1="2481.7" y1="231.9" x2="2528.0" y2="231.9" stroke="#0a0a0a" stroke-width="1.28" />
<line x1="2282.0" y1="231.9" x2="2296.0" y2="231.9" stroke="#0a0a0a" stroke-width="1.41" />
<path d="M2563.8,100.1 H2466.4 L2134.6,345.5" fill="none" stroke="#0a0a0a" stroke-width="1.28" />
<polygon points="2412.7,139.7 2427.5,124.4 2431.6,130.0" fill="#0a0a0a"/>
<polygon points="2163.5,324.1 2148.7,339.4 2144.6,333.8" fill="#0a0a0a"/>
<text transform="translate(2504.6,94.4) scale(1.2,1)" font-size="26.3" font-weight="200" font-family="'DejaVu Sans Light','DejaVu Sans','Liberation Sans',sans-serif" fill="#111" stroke="#111" stroke-width="0.55">Ø</text>
<text transform="scale(0.62,1)" x="4085.2 4105.6" y="91.5" text-anchor="middle" font-size="24.5" font-weight="200" font-family="'DejaVu Sans Light','DejaVu Sans','Liberation Sans',sans-serif" fill="#626262" stroke="#626262" stroke-width="0.7">22</text>
<line x1="2509.4" y1="148.8" x2="2509.4" y2="268.3" stroke="#0a0a0a" stroke-width="1.28" />
<polygon points="2509.4,222.1 2505.9,200.6 2512.9,200.6" fill="#0a0a0a"/>
<polygon points="2509.4,231.3 2512.9,253.8 2505.9,253.8" fill="#0a0a0a"/>
<text transform="translate(2501.7,166.3) rotate(-90) scale(0.65,1)" x="-18.9 -0.8 18.9" y="0.0" text-anchor="middle" font-size="25.5" font-weight="200" font-family="'DejaVu Sans Light','DejaVu Sans','Liberation Sans',sans-serif" fill="#626262" stroke="#626262" stroke-width="0.7">0.7</text>
<path d="M2055.7,154.7 H2093.3 L2288.1,222.1" fill="none" stroke="#0a0a0a" stroke-width="1.28" />
<polygon points="2288.1,222.1 2266.6,218.4 2268.9,211.8" fill="#0a0a0a"/>
<path d="M2062,269.1 H2096.7 L2288.1,231.9" fill="none" stroke="#0a0a0a" stroke-width="1.28" />
<polygon points="2288.1,231.9 2267.7,239.4 2266.3,232.6" fill="#0a0a0a"/>
<text y="161.6" font-size="23.3" fill="#383838" font-family="'Liberation Sans', sans-serif" xml:space="preserve"><tspan x="1853.4" textLength="116.1" lengthAdjust="spacingAndGlyphs">Mechanical</tspan> <tspan x="1975.6" textLength="70.5" lengthAdjust="spacingAndGlyphs">Center</tspan></text>
<text y="276.1" font-size="23.3" fill="#383838" font-family="'Liberation Sans', sans-serif" xml:space="preserve"><tspan x="1903.9" textLength="74.6" lengthAdjust="spacingAndGlyphs">Optical</tspan> <tspan x="1984.1" textLength="71.8" lengthAdjust="spacingAndGlyphs">Center</tspan></text>
</g>
</svg>
</body></html>
